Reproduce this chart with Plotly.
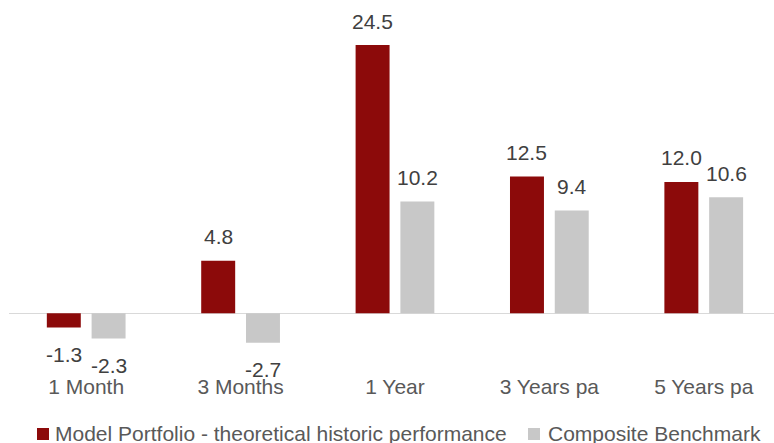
import plotly.graph_objects as go

categories = ["1 Month", "3 Months", "1 Year", "3 Years pa", "5 Years pa"]
portfolio = [-1.3, 4.8, 24.5, 12.5, 12.0]
benchmark = [-2.3, -2.7, 10.2, 9.4, 10.6]
series_names = ["Model Portfolio - theoretical historic performance", "Composite Benchmark"]

RED = "#8C0A0A"
GRAY = "#C8C8C8"
FONT = "Liberation Sans, Arial, sans-serif"
W, H = 774, 443
ML, MR, MT, MB = 9, 0, 10, 71


def px_x(px):
    return (px - ML) / (W - ML - MR)


def px_y(py):
    return (H - MB - py) / (H - MT - MB)


fig = go.Figure()
fig.add_trace(go.Bar(x=categories, y=portfolio, name=series_names[0],
                     marker=dict(color=RED, line=dict(width=0)),
                     offset=-0.255, width=0.22, hoverinfo="skip"))
fig.add_trace(go.Bar(x=categories, y=benchmark, name=series_names[1],
                     marker=dict(color=GRAY, line=dict(width=0)),
                     offset=0.035, width=0.22, hoverinfo="skip"))

annotations = []
for i, (p, b) in enumerate(zip(portfolio, benchmark)):
    for val, dx in ((p, -0.145), (b, 0.145)):
        annotations.append(dict(
            x=i + dx, y=val, xref="x", yref="y",
            text=f"{val:.1f}", showarrow=False,
            yshift=24 if val >= 0 else -27,
            yanchor="middle", xanchor="center",
            font=dict(family=FONT, size=21, color="#404040")))

# custom legend (square swatch + text), matching reference placement
shapes = []
legend_items = [(series_names[0], RED, 37, 53), (series_names[1], GRAY, 528, 546)]
for name, color, sx, tx in legend_items:
    shapes.append(dict(type="rect", xref="paper", yref="paper",
                       x0=px_x(sx), x1=px_x(sx + 12), y0=px_y(440), y1=px_y(428),
                       fillcolor=color, line=dict(width=0)))
    annotations.append(dict(x=px_x(tx), y=px_y(433), xref="paper", yref="paper",
                            text=name, showarrow=False, xanchor="left", yanchor="middle",
                            font=dict(family=FONT, size=21, color="#595959")))

fig.update_layout(
    width=W, height=H,
    margin=dict(l=ML, r=MR, t=MT, b=MB),
    paper_bgcolor="white", plot_bgcolor="white",
    barmode="overlay",
    font=dict(family=FONT, size=21, color="#595959"),
    showlegend=False,
    annotations=annotations,
    shapes=shapes,
    xaxis=dict(type="category", range=[-0.5, 4.455], showgrid=False,
               showline=False, ticks="", zeroline=False,
               tickfont=dict(family=FONT, size=21, color="#595959")),
    yaxis=dict(range=[-5.36, 27.7], showgrid=False, showticklabels=False,
               showline=False, ticks="", zeroline=True,
               zerolinecolor="#D9D9D9", zerolinewidth=1.5),
)

fig.write_html("out.html",
               config={"displayModeBar": False, "staticPlot": True},
               post_script="document.body.style.margin='0';document.body.style.overflow='hidden';")
